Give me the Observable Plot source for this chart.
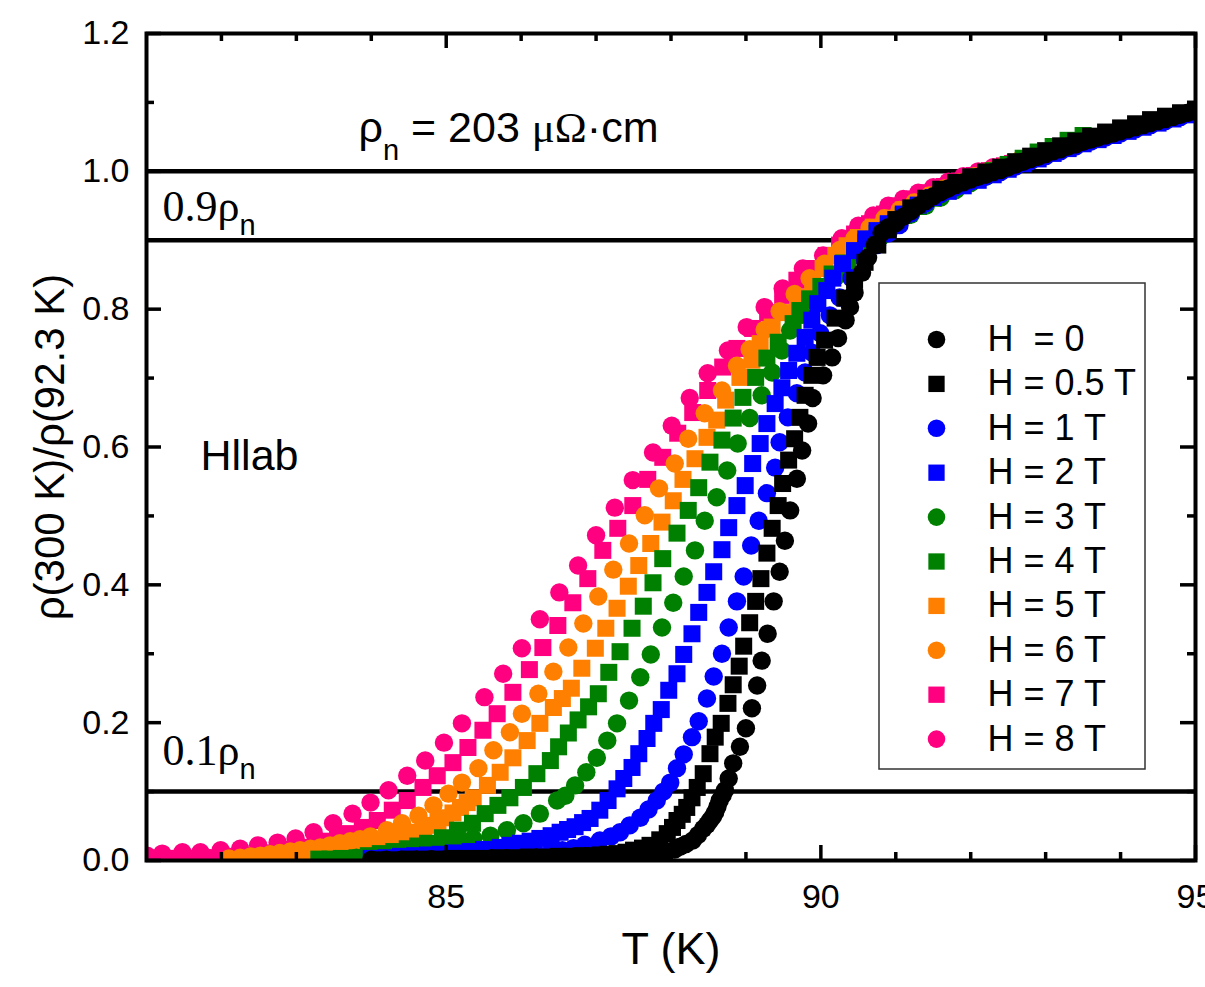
<!DOCTYPE html>
<html><head><meta charset="utf-8">
<script src="https://cdn.jsdelivr.net/npm/d3@7"></script>
<script src="https://cdn.jsdelivr.net/npm/@observablehq/plot@0.6"></script>
<style>
body{margin:0;background:#fff;}
#chart{width:1205px;height:987px;overflow:hidden;}
text{white-space:pre;}
</style></head><body><div id="chart"></div>
<script>
// ---------- data (T in K, normalized resistivity) ----------
const seriesLabels = ["H\u00a0\u00a0= 0","H = 0.5 T","H = 1 T","H = 2 T","H = 3 T","H = 4 T","H = 5 T","H = 6 T","H = 7 T","H = 8 T"];
const seriesColors = ["#000000","#000000","#0000ff","#0000ff","#008000","#008000","#ff8000","#ff8000","#ff0080","#ff0080"];
const seriesSymbols = ["circle","square","circle","square","circle","square","square","circle","square","circle"];

const h0 = [[84.0,0.001],[84.2,0.001],[84.4,0.001],[84.6,0.001],[84.8,0.002],[85.0,0.002],[85.2,0.002],[85.4,0.002],[85.6,0.003],[85.8,0.003],[86.0,0.003],[86.2,0.004],[86.4,0.004],[86.6,0.004],[86.8,0.005],[87.0,0.005],[87.2,0.006],[87.4,0.006],[87.6,0.007],[87.72,0.008],[87.85,0.010],[87.95,0.013],[88.05,0.016],[88.12,0.020],[88.2,0.024],[88.29,0.029],[88.36,0.037],[88.43,0.046],[88.48,0.052],[88.52,0.058],[88.56,0.064],[88.59,0.070],[88.62,0.078],[88.65,0.087],[88.69,0.095],[88.72,0.102],[88.77,0.119],[88.83,0.141],[88.92,0.165],[89.00,0.192],[89.08,0.221],[89.15,0.254],[89.21,0.290],[89.29,0.329],[89.37,0.376],[89.45,0.419],[89.52,0.464],[89.59,0.508],[89.68,0.554],[89.75,0.595],[89.83,0.634],[89.89,0.671],[90.03,0.704],[90.15,0.730],[90.23,0.758],[90.33,0.784],[90.39,0.803],[90.45,0.824],[90.55,0.853],[90.63,0.875],[90.72,0.893],[90.81,0.911],[90.9,0.919],[91.0,0.925],[91.1,0.934],[91.2,0.942],[91.3,0.950],[91.4,0.957],[91.5,0.964],[91.6,0.970],[91.7,0.975],[91.8,0.980],[91.9,0.984],[92.0,0.988],[92.1,0.992],[92.2,0.995],[92.3,0.999],[92.4,1.002],[92.5,1.006],[92.6,1.010],[92.7,1.014],[92.8,1.018],[92.9,1.021],[93.0,1.025],[93.1,1.029],[93.2,1.032],[93.3,1.036],[93.4,1.039],[93.5,1.043],[93.6,1.046],[93.7,1.049],[93.8,1.052],[93.9,1.055],[94.0,1.058],[94.1,1.061],[94.2,1.064],[94.3,1.067],[94.4,1.070],[94.5,1.073],[94.6,1.076],[94.7,1.079],[94.8,1.082],[94.9,1.085],[95.0,1.088]];

const h05 = [[84.1,0.001],[84.3,0.001],[84.5,0.002],[84.7,0.002],[84.9,0.002],[85.1,0.003],[85.3,0.003],[85.5,0.003],[85.7,0.004],[85.9,0.004],[86.1,0.005],[86.3,0.005],[86.5,0.006],[86.65,0.006],[86.8,0.007],[86.95,0.007],[87.05,0.008],[87.15,0.009],[87.28,0.010],[87.4,0.012],[87.5,0.015],[87.62,0.018],[87.72,0.022],[87.85,0.030],[87.95,0.039],[88.02,0.048],[88.08,0.058],[88.15,0.067],[88.21,0.077],[88.28,0.091],[88.35,0.106],[88.43,0.126],[88.52,0.155],[88.59,0.179],[88.67,0.199],[88.76,0.228],[88.83,0.255],[88.91,0.282],[88.97,0.311],[89.05,0.345],[89.13,0.376],[89.20,0.409],[89.28,0.446],[89.35,0.482],[89.43,0.515],[89.49,0.547],[89.57,0.581],[89.65,0.612],[89.72,0.643],[89.79,0.675],[89.88,0.704],[89.95,0.730],[90.05,0.755],[90.19,0.787],[90.32,0.816],[90.45,0.842],[90.59,0.868],[90.76,0.893],[90.9,0.915],[91.0,0.930],[91.2,0.947],[91.4,0.961],[91.6,0.974],[91.8,0.984],[92.0,0.992],[92.2,0.999],[92.4,1.006],[92.6,1.014],[92.8,1.022],[93.0,1.030],[93.2,1.037],[93.4,1.044],[93.6,1.051],[93.8,1.057],[94.0,1.063],[94.2,1.069],[94.4,1.075],[94.6,1.080],[94.8,1.085],[95.0,1.090]];

const h1 = [[84.6,0.002],[84.8,0.003],[85.0,0.003],[85.2,0.004],[85.4,0.004],[85.6,0.005],[85.8,0.006],[86.0,0.008],[86.2,0.010],[86.4,0.013],[86.55,0.015],[86.7,0.018],[86.85,0.023],[87.05,0.029],[87.2,0.035],[87.32,0.041],[87.45,0.051],[87.59,0.062],[87.7,0.074],[87.81,0.087],[87.9,0.100],[87.99,0.113],[88.08,0.134],[88.17,0.154],[88.28,0.179],[88.37,0.202],[88.48,0.235],[88.57,0.267],[88.68,0.300],[88.77,0.338],[88.88,0.376],[88.97,0.412],[89.07,0.457],[89.17,0.493],[89.28,0.533],[89.39,0.570],[89.45,0.607],[89.56,0.643],[89.68,0.678],[89.79,0.708],[89.88,0.737],[89.99,0.765],[90.12,0.791],[90.25,0.817],[90.41,0.845],[90.59,0.871],[90.75,0.893],[90.9,0.910],[91.05,0.922],[91.2,0.939],[91.4,0.954],[91.6,0.967],[91.8,0.977],[92.0,0.985],[92.2,0.992],[92.4,0.999],[92.6,1.007],[92.8,1.015],[93.0,1.022],[93.2,1.029],[93.4,1.036],[93.6,1.043],[93.8,1.049],[94.0,1.055],[94.2,1.061],[94.4,1.067],[94.6,1.073],[94.8,1.079],[95.0,1.085]];

const h2 = [[84.0,0.003],[84.2,0.004],[84.39,0.006],[84.58,0.007],[84.75,0.008],[84.92,0.009],[85.1,0.011],[85.32,0.013],[85.5,0.016],[85.72,0.019],[85.85,0.022],[85.99,0.025],[86.12,0.028],[86.25,0.032],[86.4,0.036],[86.52,0.041],[86.62,0.045],[86.72,0.049],[86.82,0.055],[86.92,0.061],[87.05,0.073],[87.16,0.087],[87.28,0.104],[87.37,0.119],[87.48,0.135],[87.57,0.155],[87.68,0.177],[87.77,0.199],[87.87,0.219],[87.97,0.247],[88.08,0.271],[88.17,0.299],[88.28,0.329],[88.37,0.360],[88.48,0.389],[88.57,0.419],[88.68,0.451],[88.77,0.483],[88.88,0.515],[88.99,0.544],[89.09,0.576],[89.19,0.605],[89.28,0.634],[89.39,0.663],[89.48,0.686],[89.57,0.711],[89.68,0.736],[89.79,0.759],[89.88,0.784],[89.96,0.808],[90.08,0.827],[90.16,0.845],[90.29,0.866],[90.45,0.885],[90.6,0.902],[90.75,0.914],[90.9,0.924],[91.1,0.938],[91.3,0.951],[91.5,0.962],[91.7,0.971],[91.9,0.979],[92.1,0.987],[92.3,0.995],[92.5,1.003],[92.7,1.011],[92.9,1.018],[93.1,1.026],[93.3,1.033],[93.5,1.040],[93.7,1.046],[93.9,1.052],[94.1,1.058],[94.3,1.064],[94.5,1.070],[94.7,1.076],[94.9,1.082],[95.0,1.085]];

const h3 = [[83.8,0.004],[84.0,0.005],[84.2,0.008],[84.4,0.011],[84.6,0.016],[84.83,0.022],[85.0,0.024],[85.15,0.026],[85.36,0.032],[85.59,0.036],[85.81,0.044],[86.03,0.054],[86.25,0.068],[86.48,0.087],[86.59,0.094],[86.72,0.109],[86.87,0.128],[87.01,0.149],[87.15,0.174],[87.28,0.199],[87.44,0.232],[87.59,0.266],[87.73,0.299],[87.88,0.338],[88.03,0.374],[88.17,0.412],[88.32,0.450],[88.45,0.493],[88.61,0.527],[88.75,0.566],[88.89,0.605],[89.05,0.642],[89.21,0.675],[89.35,0.708],[89.48,0.740],[89.59,0.769],[89.75,0.792],[89.9,0.812],[90.05,0.830],[90.2,0.847],[90.35,0.863],[90.5,0.878],[90.65,0.892],[90.8,0.905],[91.0,0.922],[91.2,0.937],[91.4,0.950],[91.6,0.962],[91.8,0.973],[92.0,0.983],[92.2,0.992],[92.4,1.001],[92.6,1.009],[92.8,1.017],[93.0,1.025],[93.2,1.033],[93.4,1.041]];

const h4 = [[83.3,0.002],[83.45,0.002],[83.6,0.003],[83.81,0.004],[83.96,0.007],[84.12,0.010],[84.3,0.013],[84.48,0.017],[84.62,0.021],[84.75,0.025],[84.95,0.033],[85.15,0.044],[85.35,0.054],[85.52,0.068],[85.69,0.080],[85.85,0.091],[86.03,0.106],[86.21,0.126],[86.39,0.145],[86.50,0.165],[86.63,0.185],[86.76,0.204],[86.9,0.223],[87.03,0.242],[87.17,0.273],[87.32,0.303],[87.48,0.337],[87.63,0.369],[87.76,0.403],[87.89,0.438],[88.08,0.475],[88.23,0.508],[88.37,0.541],[88.52,0.578],[88.68,0.610],[88.83,0.642],[88.96,0.672],[89.13,0.701],[89.28,0.729],[89.43,0.752],[89.63,0.779],[89.72,0.798],[89.85,0.815],[90.0,0.833],[90.15,0.851],[90.3,0.867],[90.45,0.882],[90.6,0.897],[90.75,0.910],[90.9,0.922],[91.1,0.936],[91.3,0.949],[91.5,0.961],[91.7,0.972],[91.9,0.982],[92.1,0.992],[92.3,1.001],[92.5,1.010],[92.7,1.019],[92.9,1.028],[93.1,1.036],[93.3,1.045],[93.5,1.052]];

const h5 = [[82.6,0.002],[82.75,0.002],[82.9,0.003],[83.05,0.004],[83.2,0.005],[83.35,0.007],[83.5,0.010],[83.65,0.013],[83.81,0.017],[83.96,0.021],[84.12,0.025],[84.26,0.028],[84.39,0.032],[84.5,0.036],[84.61,0.041],[84.7,0.046],[84.79,0.051],[84.89,0.056],[84.99,0.062],[85.09,0.069],[85.19,0.077],[85.28,0.084],[85.36,0.091],[85.55,0.109],[85.72,0.128],[85.89,0.149],[86.08,0.174],[86.25,0.199],[86.43,0.222],[86.55,0.235],[86.67,0.250],[86.81,0.279],[86.99,0.308],[87.13,0.337],[87.28,0.366],[87.43,0.398],[87.57,0.428],[87.73,0.460],[87.88,0.491],[88.03,0.522],[88.16,0.553],[88.32,0.583],[88.48,0.614],[88.61,0.639],[88.73,0.668],[88.92,0.701],[89.08,0.726],[89.19,0.750],[89.35,0.774],[89.52,0.795],[89.69,0.817],[89.89,0.837],[90.03,0.859],[90.2,0.878],[90.35,0.892],[90.5,0.904],[90.7,0.919],[90.9,0.932],[91.1,0.944],[91.3,0.955],[91.5,0.965],[91.7,0.975],[91.9,0.984],[92.1,0.992],[92.3,1.000],[92.5,1.008],[92.7,1.015],[92.9,1.022],[93.05,1.028]];

const h6 = [[82.1,0.003],[82.25,0.004],[82.39,0.006],[82.52,0.007],[82.65,0.009],[82.78,0.011],[82.92,0.013],[83.05,0.015],[83.19,0.017],[83.32,0.019],[83.45,0.022],[83.58,0.025],[83.72,0.028],[83.85,0.031],[83.99,0.035],[84.21,0.044],[84.41,0.054],[84.63,0.065],[84.83,0.080],[85.03,0.097],[85.21,0.113],[85.43,0.134],[85.63,0.160],[85.85,0.186],[86.01,0.213],[86.23,0.242],[86.43,0.274],[86.63,0.309],[86.83,0.344],[87.03,0.383],[87.23,0.422],[87.44,0.460],[87.65,0.501],[87.84,0.540],[88.05,0.576],[88.23,0.612],[88.45,0.649],[88.68,0.682],[88.88,0.718],[89.05,0.742],[89.25,0.770],[89.45,0.797],[89.65,0.822],[89.85,0.845],[90.05,0.866],[90.25,0.886],[90.45,0.903],[90.65,0.918],[90.85,0.932],[91.05,0.944],[91.25,0.955],[91.45,0.965],[91.65,0.975],[91.85,0.984],[92.05,0.993],[92.25,1.001],[92.45,1.009],[92.65,1.016],[92.85,1.023],[93.05,1.030]];

const h7 = [[81.0,0.002],[81.15,0.002],[81.3,0.003],[81.45,0.003],[81.6,0.003],[81.75,0.004],[81.9,0.004],[82.05,0.005],[82.2,0.006],[82.35,0.007],[82.5,0.009],[82.65,0.011],[82.8,0.013],[82.95,0.016],[83.1,0.019],[83.25,0.023],[83.4,0.028],[83.55,0.033],[83.68,0.039],[83.88,0.048],[84.08,0.058],[84.28,0.073],[84.48,0.087],[84.69,0.106],[84.88,0.123],[85.09,0.142],[85.29,0.164],[85.49,0.189],[85.68,0.213],[85.89,0.244],[86.11,0.277],[86.29,0.309],[86.49,0.341],[86.69,0.374],[86.89,0.409],[87.09,0.450],[87.29,0.482],[87.49,0.515],[87.69,0.553],[87.89,0.585],[88.09,0.620],[88.29,0.650],[88.49,0.682],[88.69,0.716],[88.88,0.743],[89.09,0.772],[89.29,0.795],[89.49,0.820],[89.68,0.842],[89.88,0.859],[90.07,0.878],[90.25,0.893],[90.45,0.909],[90.65,0.924],[90.85,0.938],[91.05,0.950],[91.25,0.960],[91.45,0.969],[91.65,0.978],[91.85,0.986],[92.05,0.994],[92.25,1.001],[92.45,1.008],[92.56,1.011]];

const h8 = [[81.01,0.007],[81.21,0.010],[81.48,0.012],[81.72,0.012],[81.99,0.015],[82.25,0.017],[82.49,0.022],[82.75,0.026],[82.99,0.032],[83.23,0.041],[83.49,0.054],[83.75,0.068],[83.99,0.084],[84.23,0.102],[84.48,0.123],[84.72,0.145],[84.97,0.171],[85.21,0.199],[85.51,0.237],[85.76,0.271],[86.01,0.308],[86.25,0.350],[86.51,0.389],[86.76,0.428],[87.00,0.472],[87.25,0.512],[87.49,0.552],[87.76,0.592],[88.01,0.631],[88.25,0.671],[88.49,0.707],[88.76,0.740],[89.01,0.774],[89.25,0.803],[89.49,0.830],[89.76,0.859],[90.03,0.878],[90.28,0.903],[90.5,0.921],[90.7,0.936],[90.9,0.950],[91.1,0.960],[91.3,0.969],[91.5,0.977],[91.7,0.985],[91.9,0.993],[92.1,1.000],[92.3,1.006],[92.5,1.011]];

const seriesData = [h0,h05,h1,h2,h3,h4,h5,h6,h7,h8];

const xMajorTicks = [85, 90, 95];
const xMinorTicks = [82, 83, 84, 86, 87, 88, 89, 91, 92, 93, 94];
const yMajorTicks = [0, 0.2, 0.4, 0.6, 0.8, 1.0, 1.2];
const yMinorTicks = [0.1, 0.3, 0.5, 0.7, 0.9, 1.1];
const refLevels = [0.1, 0.9, 1.0];

// ---------- layout ----------
const W = 1205, H = 987, ML = 146, MR = 10, MT = 33, MB = 127;
const xDom = [81, 95], yDom = [0, 1.2];
const pw = W - ML - MR, ph = H - MT - MB;
const kx = (xDom[1]-xDom[0]) / pw, ky = (yDom[1]-yDom[0]) / ph;   // data units per pixel
const tx = px => xDom[0] + (px - ML) * kx;
const ty = py => yDom[0] + (MT + ph - py) * ky;
const sans = "'Liberation Sans', Arial, sans-serif";
const serif = "'Liberation Serif', 'Times New Roman', serif";
const rFor = s => s === "square" ? 9.6 : 9.2;

const marks = [];
marks.push(Plot.ruleY(refLevels, {stroke: "black", strokeWidth: 4.5}));
for (let i = seriesData.length - 1; i >= 0; i--) {
  marks.push(Plot.dot(seriesData[i], {x: d => d[0], y: d => d[1], r: rFor(seriesSymbols[i]), fill: seriesColors[i], symbol: seriesSymbols[i], stroke: "none", clip: true}));
}
// ticks (inward, all four sides)
const majX = 15 * kx, minX = 8 * kx, majY = 15 * ky, minY = 8 * ky;
const tw = 3.5;
marks.push(
  Plot.ruleX(xMajorTicks, {x: d => d, y1: yDom[0], y2: yDom[0] + majY, strokeWidth: tw}),
  Plot.ruleX(xMinorTicks, {x: d => d, y1: yDom[0], y2: yDom[0] + minY, strokeWidth: tw}),
  Plot.ruleX(xMajorTicks, {x: d => d, y1: yDom[1], y2: yDom[1] - majY, strokeWidth: tw}),
  Plot.ruleX(xMinorTicks, {x: d => d, y1: yDom[1], y2: yDom[1] - minY, strokeWidth: tw}),
  Plot.ruleY(yMajorTicks, {y: d => d, x1: xDom[0], x2: xDom[0] + majX, strokeWidth: tw}),
  Plot.ruleY(yMinorTicks, {y: d => d, x1: xDom[0], x2: xDom[0] + minX, strokeWidth: tw}),
  Plot.ruleY(yMajorTicks, {y: d => d, x1: xDom[1], x2: xDom[1] - majX, strokeWidth: tw}),
  Plot.ruleY(yMinorTicks, {y: d => d, x1: xDom[1], x2: xDom[1] - minX, strokeWidth: tw})
);
marks.push(Plot.frame({stroke: "black", strokeWidth: 4}));
marks.push(
  Plot.axisX({ticks: xMajorTicks, tickSize: 0, tickPadding: 23, fontSize: 34, label: null, tickFormat: d => String(d)}),
  Plot.axisY({ticks: yMajorTicks, tickSize: 0, tickPadding: 17, fontSize: 34, label: null, tickFormat: d => d.toFixed(1)})
);
// axis titles
marks.push(
  Plot.text(["T (K)"], {frameAnchor: "bottom", dy: 103, fontSize: 45, textAnchor: "middle"}),
  Plot.text(["ρ(300 K)/ρ(92.3 K)"], {frameAnchor: "left", dx: -96, rotate: -90, fontSize: 42, textAnchor: "middle"})
);
// annotations (placeholders, enriched below)
marks.push(
  Plot.text(["@rhon"], {frameAnchor: "top-left", dx: 358 - ML, dy: 141 - MT, textAnchor: "start", lineAnchor: "bottom", fontSize: 43}),
  Plot.text(["@r09"], {frameAnchor: "top-left", dx: 162 - ML, dy: 220 - MT, textAnchor: "start", lineAnchor: "bottom", fontSize: 44}),
  Plot.text(["@r01"], {frameAnchor: "top-left", dx: 162 - ML, dy: 764 - MT, textAnchor: "start", lineAnchor: "bottom", fontSize: 44}),
  Plot.text(["Hllab"], {frameAnchor: "top-left", dx: 200 - ML, dy: 469 - MT, textAnchor: "start", lineAnchor: "bottom", fontSize: 43})
);
// legend
const legendRows = seriesLabels.map((label, i) => ({label, i}));
const rowY = i => ty(339 + i * 44.4);
marks.push(Plot.rect([0], {x1: tx(879), x2: tx(1145), y1: ty(283), y2: ty(769), fill: "white", stroke: "#333", strokeWidth: 1.5}));
legendRows.forEach(d => {
  marks.push(Plot.dot([d], {x: () => tx(936), y: () => rowY(d.i), r: rFor(seriesSymbols[d.i]) - 0.4, fill: seriesColors[d.i], symbol: seriesSymbols[d.i], stroke: "none"}));
});
marks.push(Plot.text(legendRows, {x: () => tx(987), y: d => rowY(d.i), text: "label", textAnchor: "start", lineAnchor: "middle", fontSize: 36}));

const chart = Plot.plot({
  width: W, height: H,
  marginLeft: ML, marginRight: MR, marginTop: MT, marginBottom: MB,
  x: {domain: xDom, axis: null},
  y: {domain: yDom, axis: null},
  style: {fontFamily: sans, background: "white", color: "black"},
  marks
});
document.getElementById("chart").appendChild(chart);

// rich text with sub-scripts and serif Greek
function enrich(key, parts) {
  const node = [...chart.querySelectorAll("text")].find(n => n.textContent === key);
  if (!node) return;
  node.textContent = "";
  node.setAttribute("xml:space", "preserve");
  let shift = 0;
  for (const p of parts) {
    const t = document.createElementNS("http://www.w3.org/2000/svg", "tspan");
    t.textContent = p.t;
    const target = p.sub ? p.sub : 0;
    if (target !== shift) { t.setAttribute("dy", target - shift); shift = target; }
    if (p.size) t.setAttribute("font-size", p.size);
    if (p.family) t.setAttribute("font-family", p.family);
    node.appendChild(t);
  }
}
enrich("@rhon", [{t: "ρ"}, {t: "n", sub: 18, size: 29}, {t: " = 203 "}, {t: "μΩ", family: serif}, {t: "·cm"}]);
enrich("@r09", [{t: "0.9ρ", family: serif}, {t: "n", sub: 14, size: 29}]);
enrich("@r01", [{t: "0.1ρ", family: serif}, {t: "n", sub: 14, size: 29}]);
</script></body></html>
